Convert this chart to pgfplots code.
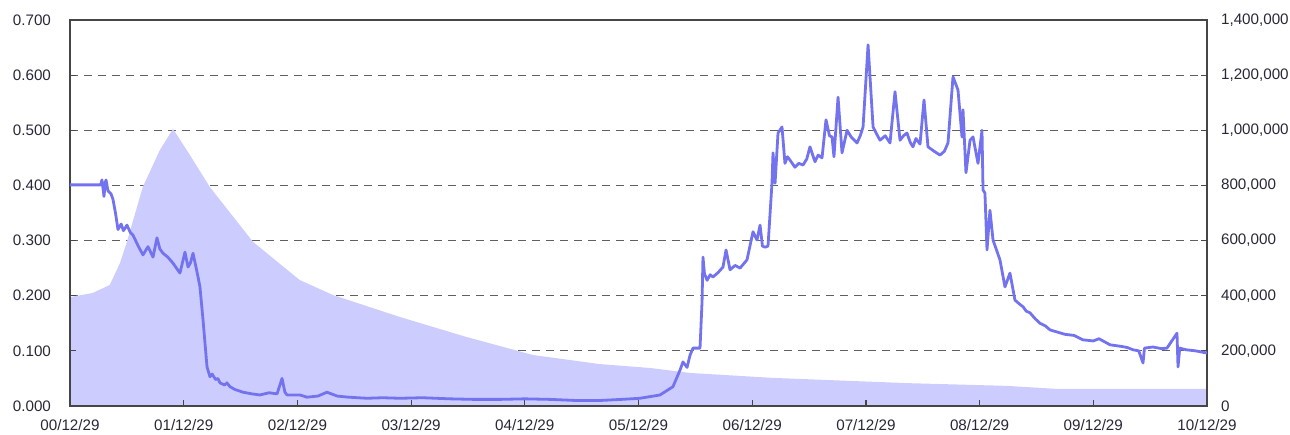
\documentclass[border=0pt]{standalone}
\usepackage{fontspec}
\setmainfont{Liberation Sans}
\usepackage{pgfplots}
\pgfplotsset{compat=1.18}
\definecolor{lineblue}{RGB}{115,115,240}
\definecolor{areafill}{RGB}{204,204,255}
\definecolor{axgray}{RGB}{70,70,70}
\definecolor{txt}{RGB}{40,40,55}
\pgfplotsset{
  common/.style={
    scale only axis, width=568.5pt, height=193pt,
    at={(0,0)}, anchor=south west,
    xmin=0, xmax=10,
    axis line style={axgray, line width=0.6pt},
    tick style={axgray, line width=0.6pt},
    major tick length=3pt,
    tick align=inside,
    tick label style={font=\fontsize{7.6}{9}\selectfont, text=txt},
    /pgf/number format/assume math mode=true,
  }
}
\begin{document}
\begin{tikzpicture}
\useasboundingbox (-35pt,-14pt) rectangle (610pt,203pt);
% right axis: area + grid
\begin{axis}[common,
  ymin=0, ymax=1400000,
  xtick=\empty,
  ytick={0,200000,400000,600000,800000,1000000,1200000,1400000},
  ytick pos=right, yticklabel pos=right,
  scaled y ticks=false,
  yticklabel style={/pgf/number format/.cd, fixed, 1000 sep={,}, /tikz/.cd, xshift=3.5pt},
  ymajorgrids,
  major grid style={dash pattern=on 4pt off 3pt, gray!75!black, line width=0.5pt},
]
\addplot[draw=none, fill=areafill] coordinates {
(0,395000) (0.2,410000) (0.35,439000) (0.44,519000) (0.5,595000) (0.64,794000) (0.79,928000) (0.906,1005000)
(1.055,910000) (1.23,794000) (1.61,595000) (2.02,457000) (2.31,403000) (2.90,323000) (3.49,250000)
(4.07,185000) (4.66,152000) (5.10,138000) (5.45,120000) (6.18,102000) (7.36,83000) (8.24,73000)
(8.68,62000) (10,62000)
} \closedcycle;
\end{axis}
% left axis: line
\begin{axis}[common,
  ymin=0, ymax=0.7,
  ytick={0,0.1,0.2,0.3,0.4,0.5,0.6,0.7},
  ytick pos=left,
  yticklabel style={/pgf/number format/.cd, fixed, fixed zerofill, precision=3, /tikz/.cd, xshift=-6pt},
  xtick={0,1,2,3,4,5,6,7,8,9,10},
  xtick pos=bottom,
  xticklabels={00/12/29,01/12/29,02/12/29,03/12/29,04/12/29,05/12/29,06/12/29,07/12/29,08/12/29,09/12/29,10/12/29},
  xticklabel style={yshift=-3.2pt},
]
\addplot[lineblue, line width=1.4pt, line join=round] coordinates {
(0,0.401) (0.1,0.401) (0.2,0.401) (0.27,0.401) (0.281,0.41) (0.29,0.395) (0.299,0.38) (0.31,0.405) (0.317,0.41)
(0.334,0.39) (0.36,0.385) (0.378,0.375) (0.40,0.35) (0.422,0.32) (0.45,0.33) (0.47,0.318) (0.501,0.328) (0.53,0.315) (0.554,0.31)
(0.60,0.29) (0.642,0.274) (0.686,0.289) (0.730,0.27) (0.765,0.305) (0.79,0.285) (0.818,0.277) (0.86,0.27) (0.906,0.259)
(0.967,0.241) (1.011,0.279) (1.038,0.252) (1.06,0.26) (1.082,0.277) (1.11,0.25) (1.126,0.234) (1.143,0.216)
(1.170,0.156) (1.205,0.071) (1.231,0.053) (1.25,0.058) (1.28,0.048) (1.30,0.05) (1.319,0.042) (1.36,0.038) (1.38,0.042) (1.407,0.035) (1.45,0.03)
(1.522,0.025) (1.60,0.022) (1.671,0.02) (1.75,0.024) (1.821,0.022) (1.865,0.05) (1.89,0.025) (1.909,0.02)
(2.023,0.02) (2.084,0.016) (2.18,0.018) (2.260,0.025) (2.35,0.018) (2.45,0.016) (2.612,0.014) (2.75,0.015)
(2.902,0.014) (3.1,0.015) (3.342,0.013) (3.55,0.012) (3.782,0.012) (4.0,0.013) (4.222,0.012) (4.45,0.010)
(4.661,0.010) (4.85,0.012) (5.013,0.014) (5.189,0.02) (5.303,0.035) (5.365,0.065) (5.391,0.08) (5.427,0.07)
(5.453,0.092) (5.479,0.105) (5.541,0.105) (5.559,0.19) (5.567,0.27) (5.58,0.24) (5.603,0.228) (5.63,0.238) (5.655,0.234) (5.70,0.242) (5.743,0.252)
(5.770,0.283) (5.805,0.247) (5.85,0.255) (5.893,0.25) (5.954,0.265) (5.98,0.29) (6.007,0.316) (6.042,0.301) (6.069,0.328) (6.09,0.29) (6.113,0.288)
(6.139,0.29) (6.174,0.404) (6.183,0.459) (6.201,0.404) (6.227,0.495) (6.262,0.506) (6.288,0.44) (6.31,0.452) (6.332,0.446)
(6.376,0.433) (6.41,0.44) (6.447,0.437) (6.48,0.448) (6.508,0.47) (6.552,0.443) (6.58,0.455) (6.614,0.45) (6.649,0.519) (6.68,0.49) (6.702,0.488) (6.719,0.452)
(6.755,0.56) (6.790,0.459) (6.834,0.5) (6.87,0.488) (6.922,0.477) (6.95,0.49) (6.975,0.506) (7.019,0.655) (7.063,0.506) (7.09,0.495) (7.124,0.482)
(7.17,0.49) (7.212,0.477) (7.256,0.57) (7.300,0.482) (7.33,0.49) (7.361,0.495) (7.39,0.478) (7.414,0.47) (7.44,0.485) (7.476,0.475) (7.511,0.555) (7.546,0.47)
(7.60,0.462) (7.652,0.455) (7.69,0.462) (7.722,0.477) (7.766,0.597) (7.810,0.573) (7.845,0.488) (7.854,0.537) (7.880,0.423) (7.916,0.482)
(7.942,0.488) (7.986,0.44) (8.021,0.5) (8.030,0.392) (8.047,0.386) (8.065,0.283) (8.091,0.355) (8.118,0.301)
(8.179,0.265) (8.223,0.216) (8.267,0.241) (8.311,0.192) (8.35,0.185) (8.382,0.18) (8.41,0.172) (8.443,0.169) (8.49,0.158) (8.531,0.15) (8.58,0.145) (8.619,0.138)
(8.75,0.13) (8.83,0.128) (8.909,0.12) (9.0,0.118) (9.05,0.122) (9.147,0.111) (9.25,0.108) (9.30,0.106) (9.349,0.102) (9.40,0.1) (9.437,0.078)
(9.45,0.105) (9.525,0.107) (9.60,0.104) (9.648,0.105) (9.736,0.132) (9.745,0.071) (9.76,0.105) (9.815,0.102) (9.9,0.1)
(10,0.096)
};
\end{axis}
\end{tikzpicture}
\end{document}
